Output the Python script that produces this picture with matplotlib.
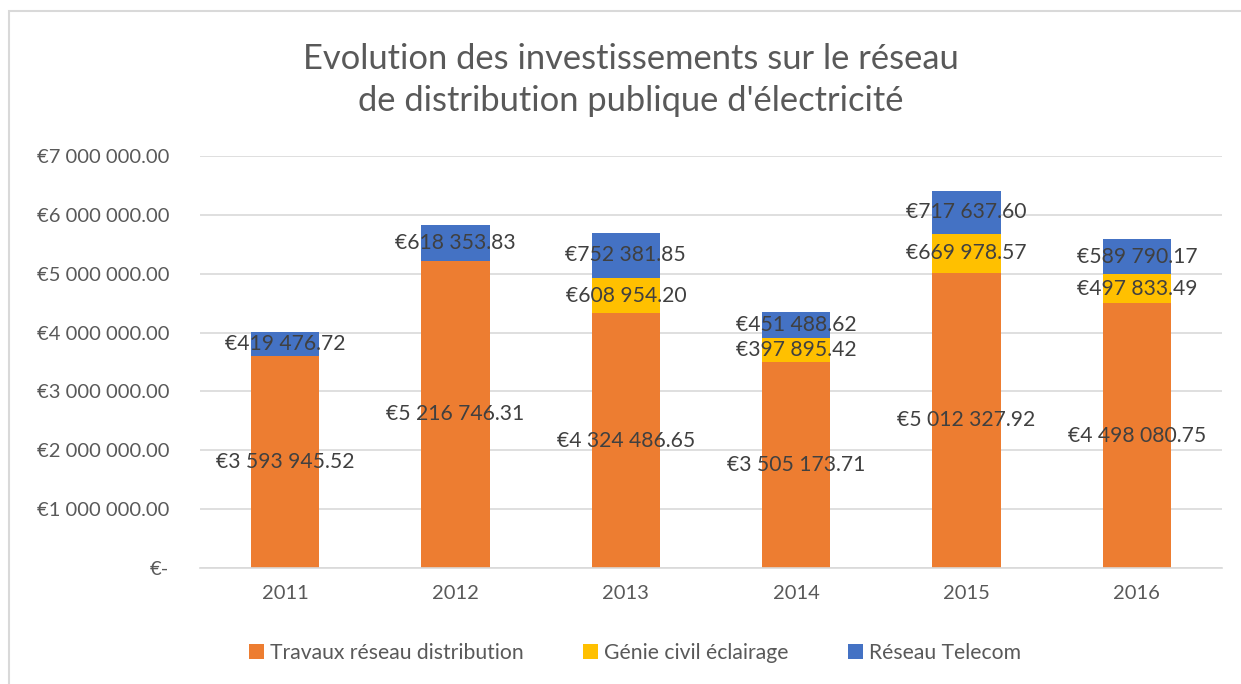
import matplotlib.pyplot as plt
from matplotlib.patches import Rectangle
import numpy as np

# -------------------------
# Data
# -------------------------
years = ["2011", "2012", "2013", "2014", "2015", "2016"]
travaux = [3593945.52, 5216746.31, 4324486.65, 3505173.71, 5012327.92, 4498080.75]
genie_civil = [0, 0, 608954.20, 397895.42, 669978.57, 497833.49]
telecom = [419476.72, 618353.83, 752381.85, 451488.62, 717637.60, 589790.17]
series_names = ["Travaux réseau distribution", "Génie civil éclairage", "Réseau Telecom"]
colors = ["#ED7D31", "#FFC000", "#4472C4"]
y_ticks = [0, 1e6, 2e6, 3e6, 4e6, 5e6, 6e6, 7e6]

TEXT = "#595959"
GRID = "#D9D9D9"
plt.rcParams["font.family"] = ["Lato", "DejaVu Sans"]


def euro(v):
    s = f"{v:,.2f}".replace(",", " ")
    return "€" + s


def euro_tick(v):
    if v == 0:
        return "€-"
    return euro(v)


fig = plt.figure(figsize=(12.41, 6.84), dpi=100)
ax = fig.add_axes([200 / 1241, 1 - 568 / 684, 1022 / 1241, 412 / 684])

x = np.arange(len(years))
bottom = np.zeros(len(years))
for name, vals, c in zip(series_names, [travaux, genie_civil, telecom], colors):
    vals = np.array(vals)
    ax.bar(x, vals, 0.4, bottom=bottom, color=c, label=name, zorder=2)
    for xi, b, v in zip(x, bottom, vals):
        if v > 0:
            ax.text(xi, b + v / 2, euro(v), ha="center", va="center",
                    fontsize=15.2, color="#404040", zorder=3)
    bottom += vals

ax.set_xlim(-0.5, len(years) - 0.5)
ax.set_ylim(0, 7e6)
ax.set_xticks(x)
ax.set_xticklabels(years)
ax.set_yticks(y_ticks)
ax.set_yticklabels([euro_tick(v) for v in y_ticks])
ax.tick_params(axis="both", length=0, labelsize=14.5, colors=TEXT)
ax.tick_params(axis="y", pad=22)
ax.tick_params(axis="x", pad=12)
ax.grid(axis="y", color=GRID, linewidth=1.2, zorder=0)
for side in ["top", "right", "left"]:
    ax.spines[side].set_visible(False)
ax.spines["bottom"].set_color(GRID)
ax.spines["bottom"].set_linewidth(1.2)

fig.text(631 / 1241, 1 - 80 / 684,
         "Evolution des investissements sur le réseau\nde distribution publique d'électricité",
         ha="center", va="center", fontsize=24.8, color=TEXT, linespacing=1.35)

fig.legend(loc="center", bbox_to_anchor=(635 / 1241, 1 - 653 / 684), ncol=3,
           frameon=False, fontsize=15.2, labelcolor=TEXT, handlelength=0.7,
           handleheight=0.7, handletextpad=0.3, columnspacing=2.8)

# chart border (top and left edges visible)
fig.patches.append(Rectangle((9 / 1241, -0.1), 1.2, 1 - 11 / 684 + 0.1,
                             transform=fig.transFigure, fill=False,
                             edgecolor=GRID, linewidth=1.5))

fig.savefig("out.png", dpi=100)
